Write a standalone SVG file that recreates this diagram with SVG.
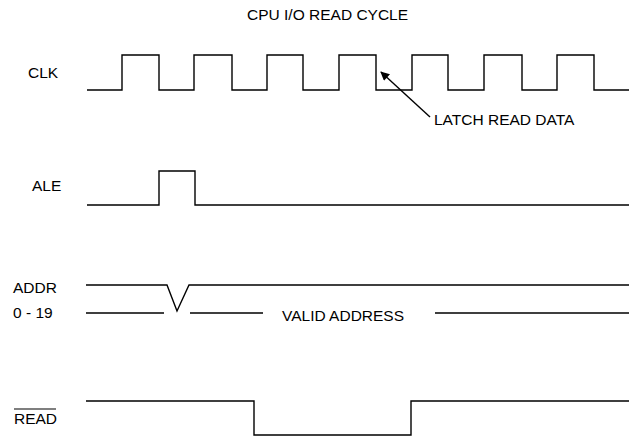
<svg xmlns="http://www.w3.org/2000/svg" width="640" height="438" viewBox="0 0 640 438">
<defs>
<style>
.w{fill:none;stroke:#000;stroke-width:1.4;stroke-linejoin:miter}
.t{font-family:"Liberation Sans",Arial,sans-serif;font-size:15.5px;fill:#000}
</style>
<marker id="ah" viewBox="0 0 10 10" refX="9" refY="5" markerWidth="10" markerHeight="9" markerUnits="userSpaceOnUse" orient="auto">
<path d="M0,0 L10,5 L0,10 z" fill="#000"/>
</marker>
</defs>
<rect width="640" height="438" fill="#fff"/>
<text class="t" x="247" y="20">CPU I/O READ CYCLE</text>
<g id="clk">
<text class="t" x="28" y="78">CLK</text>
<path class="w" d="M87,90 H122 V55 H159 V90 H194 V55 H232 V90 H267 V55 H303 V90 H339 V55 H376 V90 H412 V55 H448 V90 H484 V55 H522 V90 H557 V55 H594 V90 H629"/>
</g>
<g id="latch">
<text class="t" x="434" y="125">LATCH READ DATA</text>
</g>
<g id="ale">
<text class="t" x="32" y="191">ALE</text>
<path class="w" d="M87,205 H159 V171 H195 V205 H629"/>
</g>
<g id="addr">
<text class="t" x="13" y="293">ADDR</text>
<text class="t" x="13" y="318">0 - 19</text>
<path class="w" d="M86,285 H167 L177,311 L189,285 H629"/>
<path class="w" d="M86,313 H164 M190,313 H263 M435,313 H629"/>
<text class="t" x="282" y="321">VALID ADDRESS</text>
</g>
<g id="read">
<text class="t" x="14" y="424">READ</text>
<line x1="14" y1="409" x2="56" y2="409" stroke="#000" stroke-width="1.2"/>
<path class="w" d="M86,401 H254 V435 H411 V401 H629"/>
</g>
<g id="connectors">
<line x1="430" y1="117" x2="381" y2="72" stroke="#000" stroke-width="1.4" marker-end="url(#ah)"/>
</g>
</svg>
